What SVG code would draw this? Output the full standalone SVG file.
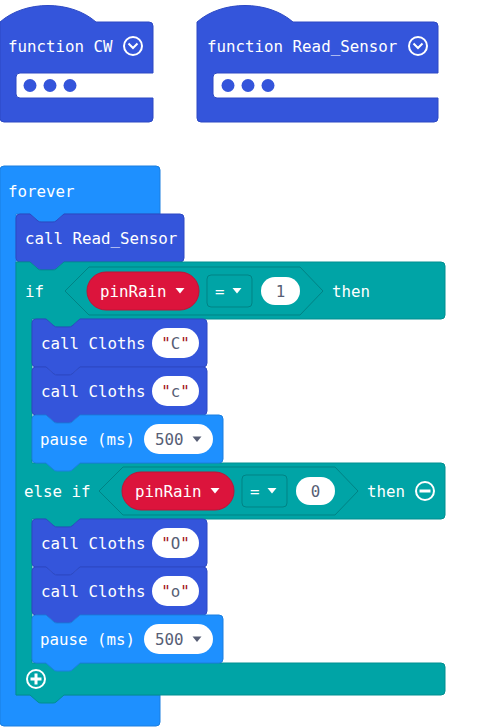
<svg xmlns="http://www.w3.org/2000/svg" width="498" height="727" viewBox="0 0 498 727">
<style>
.t{font-family:"DejaVu Sans Mono","Liberation Mono",monospace;font-size:15.8px;fill:#fff}
.g{fill:#575e75}
.q{fill:#a31515}
.fn{fill:#3455db;stroke:#2c49c4;stroke-width:1}
.bl{fill:#1e90ff;stroke:#1a7fe0;stroke-width:1}
.lg{fill:#00a4a6;stroke:#008f91;stroke-width:1}
.hx{fill:#00a4a6;stroke:#008385;stroke-width:1}
.dd{fill:#00a4a6;stroke:#008385;stroke-width:1}
.var{fill:#dc143c;stroke:#c01235;stroke-width:1}
.pill{fill:#fff}
.ic{fill:none;stroke:#fff;stroke-width:2}
.tri{fill:#fff}
.trg{fill:#575e75}
</style>
<rect width="498" height="727" fill="#fff"/>

<g id="fn-cw">
<path class="fn" d="M0,22 c25,-22 71,-22 96,0 H149 a4,4 0 0 1 4,4 V73 H20 a4,4 0 0 0 -4,4 V94 a4,4 0 0 0 4,4 H153 V118 a4,4 0 0 1 -4,4 H4 a4,4 0 0 1 -4,-4 Z"/>
<text class="t" x="8" y="51.5">function CW</text>
<circle class="ic" cx="133" cy="46" r="9"/>
<path class="ic" d="M128.5,43.5 l4.5,4.5 l4.5,-4.5" stroke-width="2.5"/>
<circle cx="30" cy="85.5" r="6.5" fill="#3455db"/>
<circle cx="50" cy="85.5" r="6.5" fill="#3455db"/>
<circle cx="70" cy="85.5" r="6.5" fill="#3455db"/>
</g>

<g id="fn-read-sensor">
<path class="fn" d="M197,22 c25,-22 71,-22 96,0 H434 a4,4 0 0 1 4,4 V73 H217 a4,4 0 0 0 -4,4 V94 a4,4 0 0 0 4,4 H438 V118 a4,4 0 0 1 -4,4 H201 a4,4 0 0 1 -4,-4 Z"/>
<text class="t" x="207" y="51.5">function Read_Sensor</text>
<circle class="ic" cx="418" cy="46" r="9"/>
<path class="ic" d="M413.5,43.5 l4.5,4.5 l4.5,-4.5" stroke-width="2.5"/>
<circle cx="228" cy="85.5" r="6.5" fill="#3455db"/>
<circle cx="248" cy="85.5" r="6.5" fill="#3455db"/>
<circle cx="268" cy="85.5" r="6.5" fill="#3455db"/>
</g>

<g id="forever">
<path class="bl" d="M0,170 a4,4 0 0 1 4,-4 H156 a4,4 0 0 1 4,4 V214 H64 l -8,7 q -1,1 -3,1 h -12 q -2,0 -3,-1 l -8,-7 H16 V695 H160 V722 a4,4 0 0 1 -4,4 H4 a4,4 0 0 1 -4,-4 Z"/>
<text class="t" x="8" y="197">forever</text>
</g>

<g id="call-read-sensor">
<path class="fn" d="M16,218 a4,4 0 0 1 4,-4 H30 l 8,7 q 1,1 3,1 h 12 q 2,0 3,-1 l 8,-7 H180 a4,4 0 0 1 4,4 V258 a4,4 0 0 1 -4,4 H64 l -8,7 q -1,1 -3,1 h -12 q -2,0 -3,-1 l -8,-7 H20 a4,4 0 0 1 -4,-4 Z"/>
<text class="t" x="25" y="244">call Read_Sensor</text>
</g>

<g id="if-block">
<path class="lg" d="M16,262 H30 l 8,7 q 1,1 3,1 h 12 q 2,0 3,-1 l 8,-7 H441 a4,4 0 0 1 4,4 V315 a4,4 0 0 1 -4,4 H80 l -8,7 q -1,1 -3,1 h -12 q -2,0 -3,-1 l -8,-7 H32 V463 H441 a4,4 0 0 1 4,4 V515 a4,4 0 0 1 -4,4 H80 l -8,7 q -1,1 -3,1 h -12 q -2,0 -3,-1 l -8,-7 H32 V663 H441 a4,4 0 0 1 4,4 V691 a4,4 0 0 1 -4,4 H64 l -8,7 q -1,1 -3,1 h -12 q -2,0 -3,-1 l -8,-7 H16 Z"/>
<text class="t" x="25" y="296.5">if</text>
<text class="t" x="332" y="296.5">then</text>
<text class="t" x="24" y="496.5">else if</text>
<text class="t" x="367" y="496.5">then</text>
<circle class="ic" cx="425" cy="491" r="9"/>
<rect x="419.5" y="489.5" width="11" height="3" fill="#fff"/>
<circle class="ic" cx="36" cy="679" r="9"/>
<rect x="30.5" y="677.5" width="11" height="3" fill="#fff"/>
<rect x="34.5" y="673.5" width="3" height="11" fill="#fff"/>
</g>

<g id="cond-1">
<path class="hx" d="M89,267 H300 L323,291 L300,315 H89 L65,291 Z"/>
<rect class="var" x="87" y="272" width="112" height="38" rx="19"/>
<text class="t" x="100" y="296.5">pinRain</text>
<polygon class="tri" points="175.5,288 184.5,288 180,293.5"/>
<rect class="dd" x="207" y="275" width="45" height="32" rx="4"/>
<text class="t" x="215" y="296.5">=</text>
<polygon class="tri" points="232.5,288 241.5,288 237,293.5"/>
<rect class="pill" x="261" y="277" width="39" height="28" rx="14"/>
<text class="t g" x="280.5" y="296.5" text-anchor="middle">1</text>
</g>

<g id="cond-2">
<path class="hx" d="M123,467 H335 L358,491 L335,515 H123 L99,491 Z"/>
<rect class="var" x="122" y="472" width="112" height="38" rx="19"/>
<text class="t" x="135" y="496.5">pinRain</text>
<polygon class="tri" points="210.5,488 219.5,488 215,493.5"/>
<rect class="dd" x="242" y="475" width="45" height="32" rx="4"/>
<text class="t" x="250" y="496.5">=</text>
<polygon class="tri" points="267.5,488 276.5,488 272,493.5"/>
<rect class="pill" x="296" y="477" width="39" height="28" rx="14"/>
<text class="t g" x="315.5" y="496.5" text-anchor="middle">0</text>
</g>

<g id="call-cloths-C">
<path class="fn" d="M32,323 a4,4 0 0 1 4,-4 H46 l 8,7 q 1,1 3,1 h 12 q 2,0 3,-1 l 8,-7 H203 a4,4 0 0 1 4,4 V363 a4,4 0 0 1 -4,4 H80 l -8,7 q -1,1 -3,1 h -12 q -2,0 -3,-1 l -8,-7 H36 a4,4 0 0 1 -4,-4 Z"/>
<text class="t" x="41" y="348.5">call Cloths</text>
<rect class="pill" x="152" y="328" width="47" height="30" rx="15"/>
<text class="t" x="175.5" y="348.5" text-anchor="middle"><tspan class="q">"</tspan><tspan class="g">C</tspan><tspan class="q">"</tspan></text>
</g>

<g id="call-cloths-c">
<path class="fn" d="M32,371 a4,4 0 0 1 4,-4 H46 l 8,7 q 1,1 3,1 h 12 q 2,0 3,-1 l 8,-7 H203 a4,4 0 0 1 4,4 V411 a4,4 0 0 1 -4,4 H80 l -8,7 q -1,1 -3,1 h -12 q -2,0 -3,-1 l -8,-7 H36 a4,4 0 0 1 -4,-4 Z"/>
<text class="t" x="41" y="396.5">call Cloths</text>
<rect class="pill" x="152" y="376" width="47" height="30" rx="15"/>
<text class="t" x="175.5" y="396.5" text-anchor="middle"><tspan class="q">"</tspan><tspan class="g">c</tspan><tspan class="q">"</tspan></text>
</g>

<g id="pause-1">
<path class="bl" d="M32,419 a4,4 0 0 1 4,-4 H46 l 8,7 q 1,1 3,1 h 12 q 2,0 3,-1 l 8,-7 H219 a4,4 0 0 1 4,4 V459 a4,4 0 0 1 -4,4 H80 l -8,7 q -1,1 -3,1 h -12 q -2,0 -3,-1 l -8,-7 H36 a4,4 0 0 1 -4,-4 Z"/>
<text class="t" x="40" y="444.5">pause (ms)</text>
<rect class="pill" x="144" y="424" width="69" height="30" rx="15"/>
<text class="t g" x="155" y="444.5">500</text>
<polygon class="trg" points="192.5,436.5 201.5,436.5 197,442"/>
</g>

<g id="call-cloths-O">
<path class="fn" d="M32,523 a4,4 0 0 1 4,-4 H46 l 8,7 q 1,1 3,1 h 12 q 2,0 3,-1 l 8,-7 H203 a4,4 0 0 1 4,4 V563 a4,4 0 0 1 -4,4 H80 l -8,7 q -1,1 -3,1 h -12 q -2,0 -3,-1 l -8,-7 H36 a4,4 0 0 1 -4,-4 Z"/>
<text class="t" x="41" y="548.5">call Cloths</text>
<rect class="pill" x="152" y="528" width="47" height="30" rx="15"/>
<text class="t" x="175.5" y="548.5" text-anchor="middle"><tspan class="q">"</tspan><tspan class="g">O</tspan><tspan class="q">"</tspan></text>
</g>

<g id="call-cloths-o">
<path class="fn" d="M32,571 a4,4 0 0 1 4,-4 H46 l 8,7 q 1,1 3,1 h 12 q 2,0 3,-1 l 8,-7 H203 a4,4 0 0 1 4,4 V611 a4,4 0 0 1 -4,4 H80 l -8,7 q -1,1 -3,1 h -12 q -2,0 -3,-1 l -8,-7 H36 a4,4 0 0 1 -4,-4 Z"/>
<text class="t" x="41" y="596.5">call Cloths</text>
<rect class="pill" x="152" y="576" width="47" height="30" rx="15"/>
<text class="t" x="175.5" y="596.5" text-anchor="middle"><tspan class="q">"</tspan><tspan class="g">o</tspan><tspan class="q">"</tspan></text>
</g>

<g id="pause-2">
<path class="bl" d="M32,619 a4,4 0 0 1 4,-4 H46 l 8,7 q 1,1 3,1 h 12 q 2,0 3,-1 l 8,-7 H219 a4,4 0 0 1 4,4 V659 a4,4 0 0 1 -4,4 H80 l -8,7 q -1,1 -3,1 h -12 q -2,0 -3,-1 l -8,-7 H36 a4,4 0 0 1 -4,-4 Z"/>
<text class="t" x="40" y="644.5">pause (ms)</text>
<rect class="pill" x="144" y="624" width="69" height="30" rx="15"/>
<text class="t g" x="155" y="644.5">500</text>
<polygon class="trg" points="192.5,636.5 201.5,636.5 197,642"/>
</g>

<g id="connectors"></g>
</svg>
